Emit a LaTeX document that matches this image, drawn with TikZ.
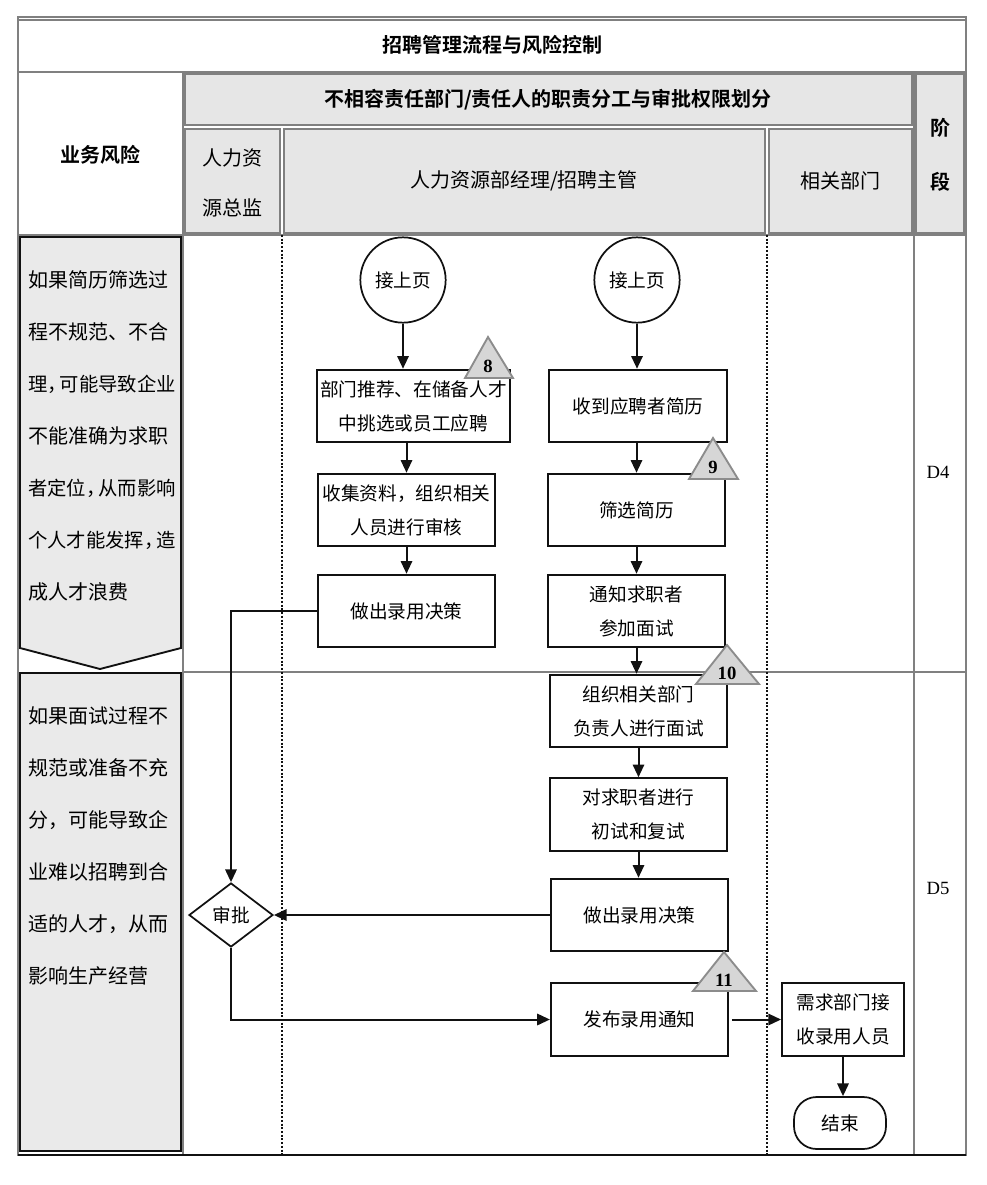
\documentclass[tikz,border=0pt]{standalone}
\usepackage{fontspec}
\setmainfont{Noto Sans CJK SC}[BoldFont={Noto Sans CJK SC Bold}]
\newfontfamily\cjkhalf{Noto Sans CJK SC}[RawFeature=+halt]
\newfontfamily\latn{Liberation Serif}
\usetikzlibrary{arrows.meta,positioning,shapes.geometric}
\definecolor{hrgrid}{HTML}{808080}
\definecolor{hrfill}{HTML}{E6E6E6}
\definecolor{hrrisk}{HTML}{EAEAEA}
\definecolor{hrtri}{HTML}{D6D6D6}
\definecolor{hrtriedge}{HTML}{8C8C8C}
\definecolor{hrink}{HTML}{111111}
\tikzset{
  box/.style={draw=hrink, line width=1.4pt, fill=white, align=center, inner sep=1pt, font=\fontsize{14}{25.5}\selectfont, minimum width=133pt, minimum height=54.5pt},
  circ/.style={circle, draw=hrink, line width=1.3pt, fill=white, minimum size=64pt, inner sep=0pt, font=\fontsize{14}{17}\selectfont},
  dec/.style={diamond, draw=hrink, line width=1.3pt, fill=white, minimum width=63pt, minimum height=48pt, inner sep=0pt, font=\fontsize{14}{17}\selectfont},
  term/.style={draw=hrink, line width=1.3pt, rounded corners=17pt, minimum width=69pt, minimum height=39pt, font=\fontsize{14}{17}\selectfont},
  tri/.style={draw=hrtriedge, fill=hrtri, line width=1.4pt, line join=miter},
  trinum/.style={inner sep=0pt, font=\latn\bfseries\fontsize{14}{16}\selectfont},
  arr/.style={-{Triangle[length=9.5pt,width=8.5pt]}, line width=1.5pt, color=hrink},
  cell/.style={draw=hrgrid, line width=1pt, fill=hrfill},
  grid/.style={draw=hrgrid, line width=1.1pt},
  hdr/.style={inner sep=0pt, align=center, font=\bfseries\fontsize{15}{18}\selectfont},
  sub/.style={inner sep=0pt, align=center, font=\fontsize{15}{18}\selectfont},
  lane/.style={hrink, line width=2.2pt, dash pattern=on 1.5pt off 1.3pt},
  risk/.style={draw=hrink, line width=1.4pt, fill=hrrisk},
  risktxt/.style={anchor=west, inner sep=0pt, font=\fontsize{15}{18}\selectfont},
}
\newcommand{\tight}{\cjkhalf\fontsize{14.5}{18}\selectfont}
\begin{document}
\begin{tikzpicture}[x=0.75pt,y=-0.75pt]
  \useasboundingbox (0,0) rectangle (987,1185);
  % frame and header cells
  \draw[grid] (18,17) rectangle (966,1155);
  \draw[grid] (18,20) -- (966,20);
  \draw[grid] (18,72) -- (966,72);
  \draw[cell] (185,74) rectangle (912,125);
  \draw[cell] (185,129) rectangle (280,233);
  \draw[cell] (284,129) rectangle (765,233);
  \draw[cell] (769,129) rectangle (912,233);
  \draw[cell] (916,74) rectangle (964,233);
  \draw[grid] (183,72) -- (183,1155);
  \draw[grid] (914,72) -- (914,1155);
  \draw[grid] (18,235) -- (966,235);
  \draw[grid] (183,672) -- (966,672);
  \draw[hrink, line width=1.1pt] (18,1155) -- (966,1155);
  \draw[lane] (282,235) -- (282,1155);
  \draw[lane] (767,235) -- (767,1155);

  \node[hdr] (title) at (492,45) {招聘管理流程与风险控制};
  \node[hdr] (riskhd) at (100,155) {业务风险};
  \node[hdr] (dutyhd) at (548,100) {不相容责任部门/责任人的职责分工与审批权限划分};
  \node[hdr, font=\bfseries\fontsize{15}{40}\selectfont] (stagehd) at (940,155) {阶\\段};
  \node[sub, font=\fontsize{15}{37.5}\selectfont] (dirhd) at (232,183) {人力资\\源总监};
  \node[sub] (mgrhd) at (524,181) {人力资源部经理/招聘主管};
  \node[sub] (dephd) at (840,181) {相关部门};
  \node[inner sep=0pt, font=\latn\fontsize{14}{16}\selectfont] (d4) at (938,472) {D4};
  \node[inner sep=0pt, font=\latn\fontsize{14}{16}\selectfont] (d5) at (938,888) {D5};

  % risk column
  \draw[risk] (20,237) -- (181,237) -- (181,648) -- (100,669) -- (20,648) -- cycle;
  \draw[risk] (20,673) rectangle (181,1151);
  \foreach \txt [count=\i] in {如果简历筛选过, 程不规范、不合, {\tight 理，\hspace{2pt}可能导致企业}, 不能准确为求职, {\tight 者定位，\hspace{2pt}从而影响}, {\tight 个人才能发挥，\hspace{2pt}造}, 成人才浪费}
    \node[risktxt] (ra\i) at (28,{280+52*(\i-1)}) {\txt};
  \foreach \txt [count=\i] in {如果面试过程不, 规范或准备不充, 分，可能导致企, 业难以招聘到合, 适的人才，从而, 影响生产经营}
    \node[risktxt] (rb\i) at (28,{716+52*(\i-1)}) {\txt};

  % flow nodes
  \node[circ] (c1) at (403,280) {接上页};
  \node[circ] (c2) at (637,280) {接上页};
  \node[box, minimum width=145pt] (a1) at (413.5,406) {部门推荐、在储备人才\\中挑选或员工应聘};
  \node[box] (a2) at (406.5,510) {收集资料，组织相关\\人员进行审核};
  \node[box] (a3) at (406.5,611) {做出录用决策};
  \node[box] (b1) at (638,406) {收到应聘者简历};
  \node[box] (b2) at (636.5,510) {筛选简历};
  \node[box] (b3) at (636.5,611) {通知求职者\\参加面试};
  \node[box] (b4) at (638.5,711) {组织相关部门\\负责人进行面试};
  \node[box] (b5) at (638.5,814.5) {对求职者进行\\初试和复试};
  \node[box] (b6) at (639.5,915) {做出录用决策};
  \node[box] (b7) at (639.5,1019.5) {发布录用通知};
  \node[dec] (chk) at (231,915) {审批};
  \node[box, minimum width=91.5pt] (cc) at (843,1019.5) {需求部门接\\收录用人员};
  \node[term] (fin) at (840,1123) {结束};

  % connectors
  \draw[arr] (c1.south) -- (c1.south |- a1.north);
  \draw[arr] (a2.north |- a1.south) -- (a2.north);
  \draw[arr] (a2) -- (a3);
  \draw[arr] (a3.west) -| (chk.north);
  \draw[arr] (c2.south) -- (c2.south |- b1.north);
  \draw[arr] (b2.north |- b1.south) -- (b2.north);
  \draw[arr] (b2) -- (b3);
  \draw[arr] (b3.south) -- (b3.south |- b4.north);
  \draw[arr] (b4) -- (b5);
  \draw[arr] (b5.south) -- (b5.south |- b6.north);
  \draw[arr] (b6.west) -- (chk.east);
  \draw[arr] (chk.south) |- (b7.west);
  \draw[arr] ([xshift=2pt]b7.east) -- (cc.west);
  \draw[arr] (cc.south) -- (cc.south |- fin.north);

  % control points
  \draw[tri] (465,378) -- (488,337) -- (513,378) -- cycle;
  \node[trinum] (n8) at (488,366) {8};
  \draw[tri] (689,479) -- (713,438) -- (738,479) -- cycle;
  \node[trinum] (n9) at (713,467) {9};
  \draw[tri] (696,684) -- (727,645) -- (759,684) -- cycle;
  \node[trinum] (n10) at (727,673) {10};
  \draw[tri] (693,991) -- (724,952) -- (756,991) -- cycle;
  \node[trinum] (n11) at (724,980) {11};
\end{tikzpicture}
\end{document}
